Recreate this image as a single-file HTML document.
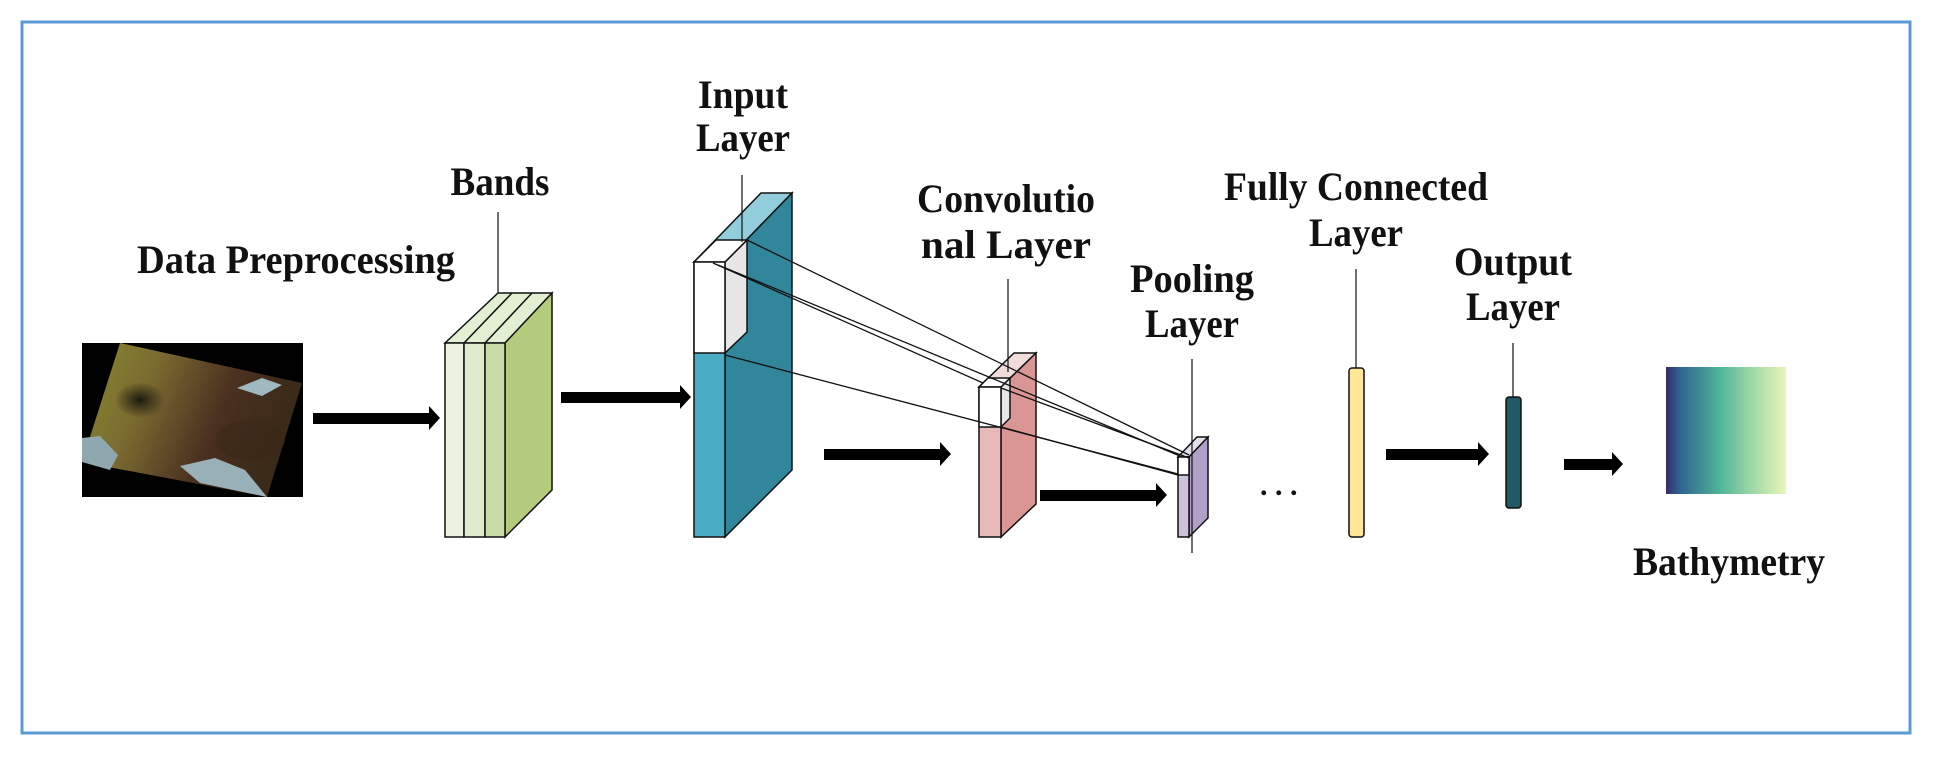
<!DOCTYPE html>
<html><head><meta charset="utf-8"><style>
html,body{margin:0;padding:0;background:#fff;}
svg{display:block;}
text{font-family:"Liberation Serif",serif;font-weight:bold;fill:#111;}
</style></head><body>
<svg width="1934" height="760" viewBox="0 0 1934 760" xmlns="http://www.w3.org/2000/svg">
<defs>
<linearGradient id="sat" x1="0" y1="0" x2="1" y2="0.3">
<stop offset="0" stop-color="#8a8a30"/><stop offset="0.35" stop-color="#7a6a30"/><stop offset="0.7" stop-color="#4a3020"/><stop offset="1" stop-color="#3a2a18"/>
</linearGradient>
<linearGradient id="bath" x1="0" y1="0" x2="1" y2="0">
<stop offset="0" stop-color="#3a2a6a"/><stop offset="0.1" stop-color="#2f5f8f"/><stop offset="0.45" stop-color="#4fb59a"/><stop offset="0.75" stop-color="#a8dca8"/><stop offset="1" stop-color="#e8f5b8"/>
</linearGradient>
<radialGradient id="dark" cx="0.5" cy="0.5" r="0.5"><stop offset="0" stop-color="#1e1a10"/><stop offset="1" stop-color="#1e1a10" stop-opacity="0"/></radialGradient>
</defs>
<rect x="22" y="22" width="1888" height="711" fill="none" stroke="#5b9bd5" stroke-width="3"/>

<rect x="82" y="343" width="221" height="154" fill="#000"/>
<polygon points="120,343 302,383 267,497 82,462" fill="url(#sat)"/>
<ellipse cx="140" cy="400" rx="25" ry="18" fill="url(#dark)"/>
<ellipse cx="250" cy="440" rx="35" ry="20" fill="#3a2818" opacity="0.5"/>
<polygon points="82,438 100,436 118,455 110,470 82,462" fill="#8fa8b0"/>
<polygon points="180,466 215,458 245,470 267,497 200,483" fill="#9ab0b8"/>
<polygon points="237,388 262,378 282,385 262,396" fill="#a0b8c0"/>

<g fill="#000">
<rect x="313" y="413" width="118" height="11"/><polygon points="429,406 440,418 429,430"/>
<rect x="561" y="392" width="121" height="11"/><polygon points="680,385 691,397 680,409"/>
<rect x="824" y="449" width="118" height="11"/><polygon points="940,442 951,454 940,466"/>
<rect x="1040" y="490" width="118" height="11"/><polygon points="1156,483 1167,495 1156,507"/>
<rect x="1386" y="449" width="94" height="11"/><polygon points="1478,442 1489,454 1478,466"/>
<rect x="1564" y="459" width="50" height="11"/><polygon points="1612,452 1623,464 1612,476"/>
</g>

<g stroke="#111" stroke-width="1.5">
<polygon points="445,343 498,293 552,293 505,343" fill="#e3efd3"/>
<polygon points="505,343 552,293 552,490 505,537" fill="#b3cb7d"/>
<rect x="445" y="343" width="19" height="194" fill="#ebf3e0"/>
<rect x="464" y="343" width="21" height="194" fill="#dfebcc"/>
<rect x="485" y="343" width="20" height="194" fill="#c9dca8"/>
<line x1="464" y1="343" x2="512" y2="293"/><line x1="485" y1="343" x2="532" y2="293"/>
</g>
<line x1="498" y1="212" x2="498" y2="293" stroke="#111" stroke-width="1.2"/>

<g stroke="#111" stroke-width="1.5">
<polygon points="694,262 725,262 792,193 761,193" fill="#92cddc"/>
<polygon points="725,262 792,193 792,470 725,537" fill="#31869b"/>
<rect x="694" y="262" width="31" height="275" fill="#4bacc6"/>
<polygon points="725,262 747,240 747,332 725,353" fill="#e6e6e6"/>
<polygon points="694,262 716,240 747,240 725,262" fill="#fff"/>
<rect x="694" y="262" width="31" height="91" fill="#fff"/>
</g>
<line x1="742" y1="175" x2="742" y2="242" stroke="#111" stroke-width="1.2"/>

<g stroke="#111" stroke-width="1.5">
<polygon points="979,387 1001,387 1036,353 1014,353" fill="#f2dcdb"/>
<polygon points="1001,387 1036,353 1036,504 1001,537" fill="#da9694"/>
<rect x="979" y="387" width="22" height="150" fill="#e6b8b7"/>
<polygon points="1001,387 1010,378 1010,418 1001,427" fill="#e6e6e6"/>
<polygon points="979,387 988,378 1010,378 1001,387" fill="#fff"/>
<rect x="979" y="387" width="22" height="40" fill="#fff"/>
</g>
<line x1="1008" y1="279" x2="1008" y2="372" stroke="#111" stroke-width="1.2"/>

<g stroke="#111" stroke-width="1.5">
<polygon points="1178,457 1189,457 1208,437 1197,437" fill="#e4dfec"/>
<polygon points="1189,457 1208,437 1208,518 1189,537" fill="#b1a0c7"/>
<rect x="1178" y="457" width="11" height="80" fill="#ccc0da"/>
<rect x="1178" y="457" width="11" height="18" fill="#fff"/>
</g>
<line x1="1192" y1="359" x2="1192" y2="553" stroke="#111" stroke-width="1.2"/>

<g stroke="#111" stroke-width="1.3" fill="none">
<line x1="747" y1="240" x2="1189" y2="455"/>
<line x1="713" y1="263" x2="983" y2="383"/>
<line x1="718" y1="265" x2="1180" y2="456"/>
<line x1="725" y1="355" x2="1178" y2="474"/>
<line x1="1001" y1="388" x2="1189" y2="458"/>
<line x1="1001" y1="427" x2="1178" y2="475"/>
</g>

<text x="1260" y="495" font-size="30">. . .</text>

<rect x="1349" y="368" width="15" height="169" rx="3" fill="#ffe699" stroke="#111" stroke-width="1.5"/>
<line x1="1356" y1="269" x2="1356" y2="368" stroke="#111" stroke-width="1.2"/>
<rect x="1506" y="397" width="15" height="111" rx="3" fill="#215967" stroke="#111" stroke-width="1.5"/>
<line x1="1513" y1="343" x2="1513" y2="397" stroke="#111" stroke-width="1.2"/>

<rect x="1666" y="367" width="120" height="127" fill="url(#bath)"/>

<g font-size="40" text-anchor="middle">
<text x="296" y="273" textLength="318" lengthAdjust="spacingAndGlyphs">Data Preprocessing</text>
<text x="500" y="195" textLength="99" lengthAdjust="spacingAndGlyphs">Bands</text>
<text x="743" y="108" textLength="90" lengthAdjust="spacingAndGlyphs">Input</text>
<text x="743" y="151" textLength="94" lengthAdjust="spacingAndGlyphs">Layer</text>
<text x="1006" y="212" textLength="178" lengthAdjust="spacingAndGlyphs">Convolutio</text>
<text x="1006" y="258" textLength="170" lengthAdjust="spacingAndGlyphs">nal Layer</text>
<text x="1192" y="292" textLength="124" lengthAdjust="spacingAndGlyphs">Pooling</text>
<text x="1192" y="337" textLength="94" lengthAdjust="spacingAndGlyphs">Layer</text>
<text x="1356" y="200" textLength="264" lengthAdjust="spacingAndGlyphs">Fully Connected</text>
<text x="1356" y="246" textLength="94" lengthAdjust="spacingAndGlyphs">Layer</text>
<text x="1513" y="275" textLength="118" lengthAdjust="spacingAndGlyphs">Output</text>
<text x="1513" y="320" textLength="94" lengthAdjust="spacingAndGlyphs">Layer</text>
<text x="1729" y="575" textLength="192" lengthAdjust="spacingAndGlyphs">Bathymetry</text>
</g>
</svg>
</body></html>
